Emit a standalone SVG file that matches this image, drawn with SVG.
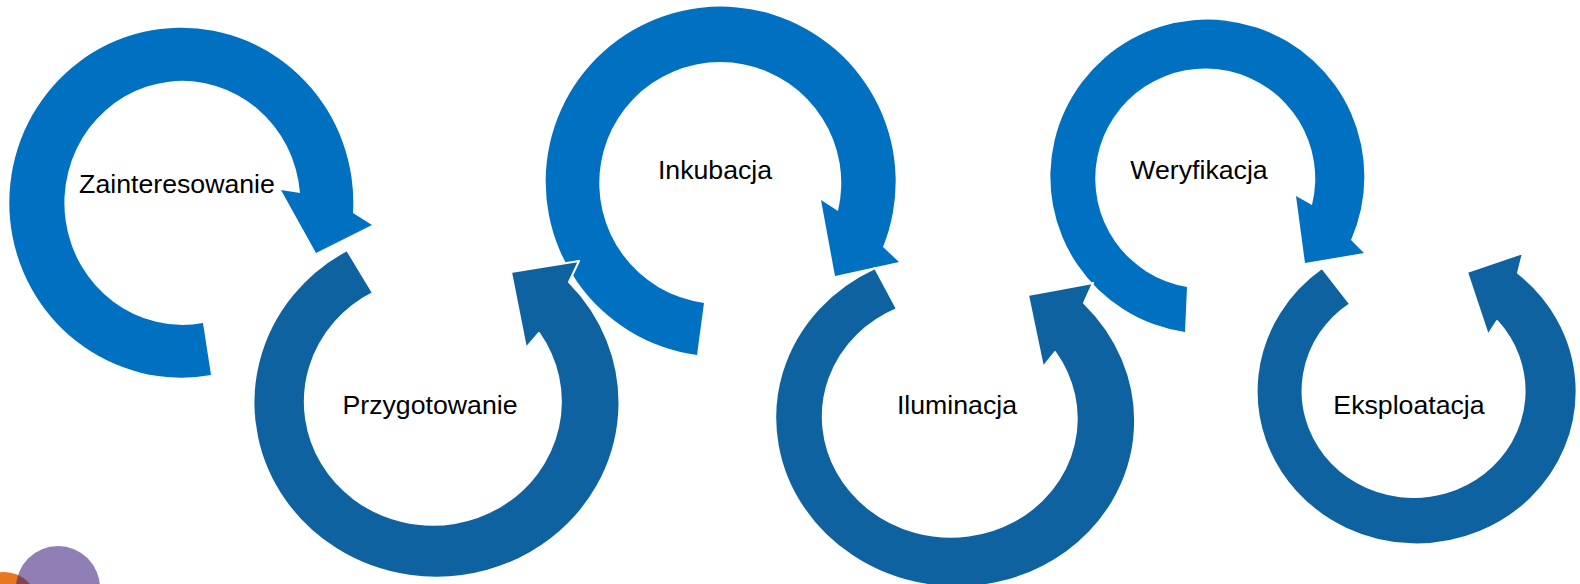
<svg xmlns="http://www.w3.org/2000/svg" width="1580" height="584" viewBox="0 0 1580 584">
<style>
.light{fill:#0070C0;}
.dark{fill:#0F62A0;stroke:#FFFFFF;stroke-width:2;stroke-linejoin:round;}
.lbl{font-family:"Liberation Sans",Arial,sans-serif;font-size:26.7px;fill:#000000;text-anchor:middle;}
</style>
<rect x="0" y="0" width="1580" height="584" fill="#FFFFFF"/>
<g id="decoration">
<circle cx="4" cy="606" r="34" fill="#E87722"/>
<circle cx="58" cy="588" r="42" fill="#371B7B" fill-opacity="0.56"/>
</g>
<g id="connectors">
<path id="arrow-zainteresowanie" class="light" d="M211,375 A172,175 0 1 1 353,213 L372,225 L316,253 L281,190 L300,193 A118,122 0 1 0 203,323 Z"/>
<path id="arrow-inkubacja" class="light" d="M697,355 A175,175 0 1 1 883,247 L899,262 L835,276 L821,200 L838,211 A121,121 0 1 0 704,303 Z"/>
<path id="arrow-weryfikacja" class="light" d="M1185,332 A157,157 0 1 1 1351,240 L1364,253 L1305,263 L1296,196 L1312,205 A110,110 0 1 0 1187,287 Z"/>
<path id="arrow-przygotowanie" class="dark" d="M347,250 A183,175 0 1 0 569,282 L579,261 L511,272 L526,348 L539,333 A128,123 0 1 1 373,293 Z"/>
<path id="arrow-iluminacja" class="dark" d="M875,268 A180,168 4 1 0 1084,303 L1093,283 L1028,295 L1043,367 L1055,352 A127,119 4 1 1 897,309 Z"/>
<path id="arrow-eksploatacja" class="dark" d="M1322,268 A160,153 0 1 0 1518,273 L1523,253 L1467,272 L1488,335 L1497,321 A111,106 0 1 1 1350,304 Z"/>
</g>
<g id="node-zainteresowanie"><text class="lbl" x="177" y="193">Zainteresowanie</text></g>
<g id="node-przygotowanie"><text class="lbl" x="430" y="414">Przygotowanie</text></g>
<g id="node-inkubacja"><text class="lbl" x="715" y="179">Inkubacja</text></g>
<g id="node-iluminacja"><text class="lbl" x="957" y="414">Iluminacja</text></g>
<g id="node-weryfikacja"><text class="lbl" x="1199" y="179">Weryfikacja</text></g>
<g id="node-eksploatacja"><text class="lbl" x="1409" y="414">Eksploatacja</text></g>
</svg>
